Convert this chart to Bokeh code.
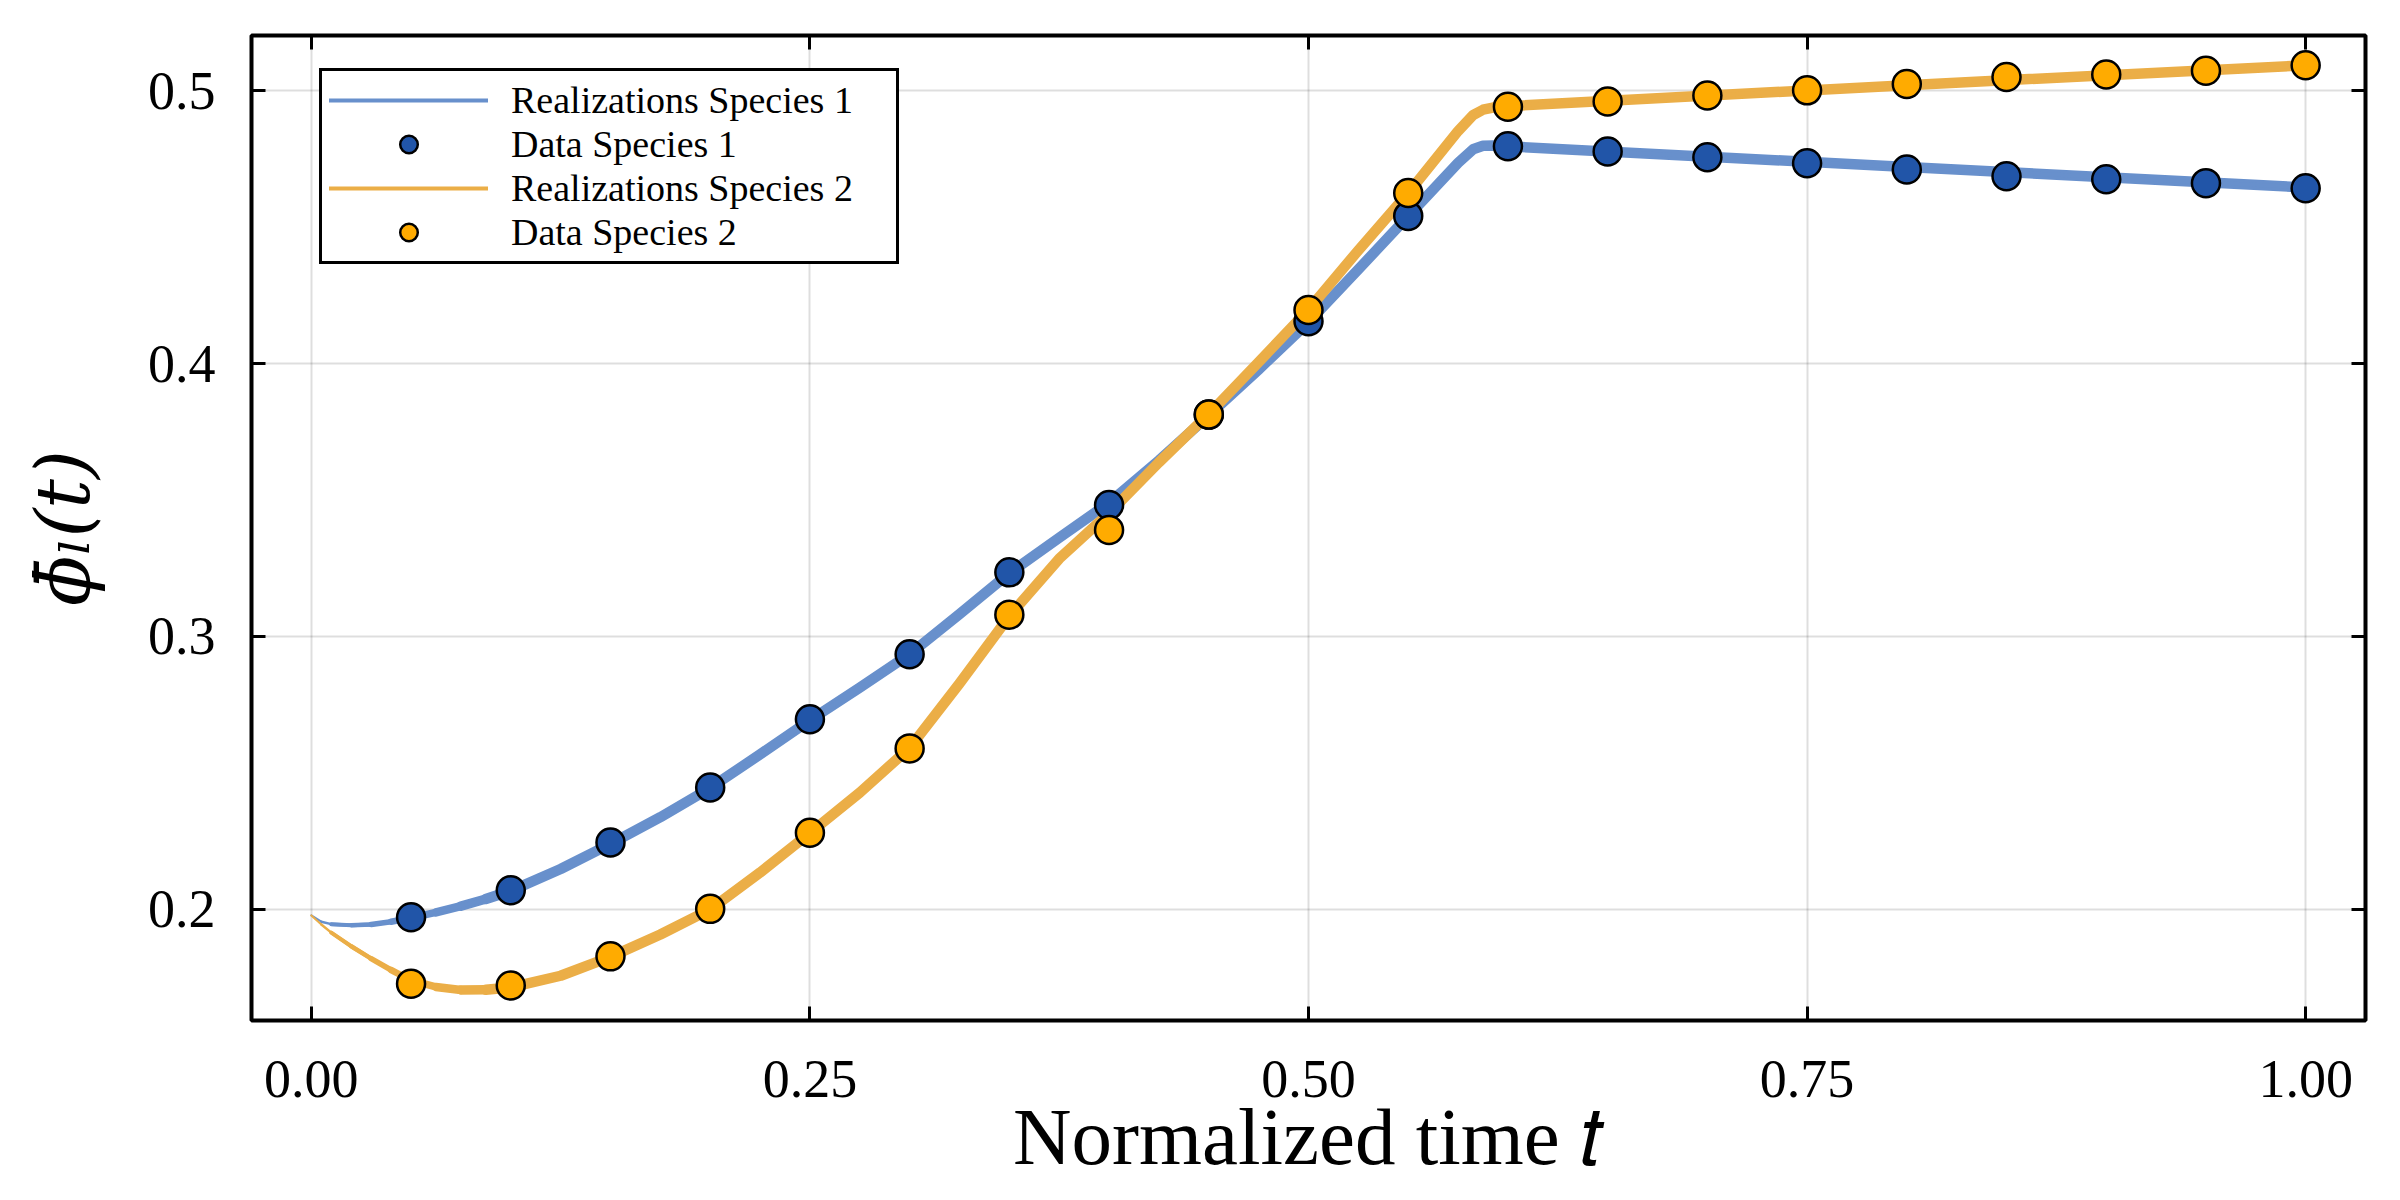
from bokeh.plotting import figure
from bokeh.models import (Range1d, FixedTicker, LinearAxis, Legend, LegendItem,
                          CustomJSTickFormatter)
from bokeh.embed import file_html
from bokeh.resources import INLINE

# ---------------- data ----------------
t_data = [0.05, 0.10, 0.15, 0.20, 0.25, 0.30, 0.35, 0.40, 0.45, 0.50,
          0.55, 0.60, 0.65, 0.70, 0.75, 0.80, 0.85, 0.90, 0.95, 1.00]
data_species1 = [0.1971, 0.2070, 0.2245, 0.2447, 0.2697, 0.2935, 0.3235, 0.3482,
                 0.3813, 0.4155, 0.4541, 0.4796, 0.4777, 0.4756, 0.4734, 0.4711,
                 0.4686, 0.4675, 0.4661, 0.4642]
data_species2 = [0.1728, 0.1721, 0.1828, 0.2002, 0.2281, 0.2590, 0.3080, 0.3390,
                 0.3813, 0.4196, 0.4625, 0.4941, 0.4960, 0.4982, 0.5001, 0.5024,
                 0.5050, 0.5059, 0.5073, 0.5093]

t_real = [0.0, 0.005, 0.01, 0.02, 0.03, 0.04, 0.05, 0.0625, 0.075, 0.0875,
          0.10, 0.125, 0.15, 0.175, 0.20, 0.225, 0.25, 0.275, 0.30, 0.325,
          0.35, 0.375, 0.40, 0.425, 0.45, 0.475, 0.50, 0.525, 0.55, 0.575,
          0.5825, 0.5875, 0.5925, 0.60, 0.80, 1.00]
real_species1 = [0.1978, 0.1955, 0.1946, 0.1942, 0.1945, 0.1955, 0.1969, 0.1989,
                 0.2012, 0.2038, 0.2068, 0.2148, 0.2240, 0.2338, 0.2445, 0.2568,
                 0.2693, 0.2813, 0.2935, 0.3082, 0.3232, 0.3362, 0.3490, 0.3645,
                 0.3810, 0.3978, 0.4152, 0.4345, 0.4540, 0.4735, 0.4785, 0.4798,
                 0.4799, 0.4796, 0.4720, 0.4645]
real_species2 = [0.1978, 0.1945, 0.1915, 0.1865, 0.1820, 0.1778, 0.1740, 0.1716,
                 0.1705, 0.1706, 0.1714, 0.1757, 0.1826, 0.1908, 0.2000, 0.2135,
                 0.2280, 0.2428, 0.2592, 0.2828, 0.3075, 0.3285, 0.3452, 0.3638,
                 0.3815, 0.4005, 0.4198, 0.4415, 0.4625, 0.4852, 0.4910, 0.4930,
                 0.4938, 0.4943, 0.5020, 0.5093]

x_ticks = [0.0, 0.25, 0.50, 0.75, 1.00]
x_tick_labels = ["0.00", "0.25", "0.50", "0.75", "1.00"]
y_ticks = [0.2, 0.3, 0.4, 0.5]
y_tick_labels = ["0.2", "0.3", "0.4", "0.5"]

# ---------------- styling ----------------
FONT = "Liberation Serif"
BLUE_REAL = "#6890cc"
ORANGE_REAL = "#ebae47"
BLUE_DATA = "#2155a8"
ORANGE_DATA = "#ffab00"

p = figure(width=2384, height=1184, output_backend="svg", toolbar_location=None,
           x_range=Range1d(-0.03, 1.03), y_range=Range1d(0.1593, 0.5202),
           min_border_left=251, min_border_right=19, min_border_top=35,
           min_border_bottom=159)

p.outline_line_color = "black"
p.outline_line_width = 4
p.outline_line_alpha = 1.0
p.background_fill_color = "white"
p.border_fill_color = "white"

# main axes
for ax in (p.xaxis[0], p.yaxis[0]):
    ax.axis_line_color = None
    ax.major_tick_in = 14
    ax.major_tick_out = 0
    ax.major_tick_line_width = 3
    ax.major_tick_line_color = "black"
    ax.minor_tick_line_color = None
    ax.major_label_text_font = FONT
    ax.major_label_text_font_size = "54px"
    ax.major_label_text_color = "black"
    ax.axis_label_text_font = FONT
    ax.axis_label_text_font_style = "normal"
    ax.axis_label_text_color = "black"

p.xaxis[0].ticker = FixedTicker(ticks=x_ticks)
p.xaxis[0].major_label_overrides = dict(zip(x_ticks, x_tick_labels))
p.yaxis[0].ticker = FixedTicker(ticks=y_ticks)
p.yaxis[0].major_label_overrides = dict(zip(y_ticks, y_tick_labels))
p.xaxis[0].major_label_standoff = 40
p.yaxis[0].major_label_standoff = 36

p.xaxis[0].axis_label = "Normalized time 𝑡"
p.xaxis[0].axis_label_text_font_size = "81px"
p.xaxis[0].axis_label_standoff = -8
p.yaxis[0].axis_label = "ϕ̄ₗ(t)"
p.yaxis[0].axis_label_text_font = "DejaVu Serif"
p.yaxis[0].axis_label_text_font_style = "italic"
p.yaxis[0].axis_label_text_font_size = "74px"
p.yaxis[0].axis_label_standoff = 39

# mirrored tick marks on top / right
empty = CustomJSTickFormatter(code="return ''")
top_ax = LinearAxis(ticker=FixedTicker(ticks=x_ticks), formatter=empty)
right_ax = LinearAxis(ticker=FixedTicker(ticks=y_ticks), formatter=empty)
for ax in (top_ax, right_ax):
    ax.axis_line_color = None
    ax.major_tick_in = 14
    ax.major_tick_out = 0
    ax.major_tick_line_width = 3
    ax.major_tick_line_color = "black"
    ax.minor_tick_line_color = None
    ax.major_label_standoff = 0
    ax.major_label_text_font_size = "1px"
p.add_layout(top_ax, "above")
p.add_layout(right_ax, "right")

p.grid.grid_line_color = "black"
p.grid.grid_line_alpha = 0.13
p.grid.grid_line_width = 2
p.xgrid.ticker = FixedTicker(ticks=x_ticks)
p.ygrid.ticker = FixedTicker(ticks=y_ticks)

# realization bundles: thin at t=0, widening as realizations spread
cuts = [(0, 1, 2.0), (1, 2, 2.5), (2, 3, 3.5), (3, 4, 4.5), (4, 5, 5.5),
        (5, 6, 6.5), (6, 7, 7.5), (7, 8, 8.5), (8, 9, 9.5),
        (9, len(t_real) - 1, 10.5)]


def bundle(values, color):
    xs = [t_real[a:b + 1] for a, b, _ in cuts]
    ys = [values[a:b + 1] for a, b, _ in cuts]
    ws = [w for _, _, w in cuts]
    p.multi_line(xs=xs, ys=ys, line_color=color, line_width=ws,
                 line_join="round", line_cap="round")
    return p.line(t_real[2:], values[2:], line_color=color, line_width=4,
                  line_join="round", line_cap="round")


r_real1 = bundle(real_species1, BLUE_REAL)
r_real2 = bundle(real_species2, ORANGE_REAL)

r_data1 = p.scatter(t_data, data_species1, size=28, fill_color=BLUE_DATA,
                    line_color="black", line_width=2.5)
r_data2 = p.scatter(t_data, data_species2, size=28, fill_color=ORANGE_DATA,
                    line_color="black", line_width=2.5)

legend = Legend(items=[
    LegendItem(label="Realizations Species 1", renderers=[r_real1]),
    LegendItem(label="Data Species 1", renderers=[r_data1]),
    LegendItem(label="Realizations Species 2", renderers=[r_real2]),
    LegendItem(label="Data Species 2", renderers=[r_data2]),
], location=(68, 756))
legend.label_text_font = FONT
legend.label_text_font_size = "38px"
legend.label_text_color = "black"
legend.label_height = 39
legend.label_width = 378
legend.glyph_height = 44
legend.glyph_width = 159
legend.label_standoff = 23
legend.spacing = 0
legend.padding = 7
legend.margin = 0
legend.border_line_color = "black"
legend.border_line_width = 3
legend.border_line_alpha = 1.0
legend.background_fill_color = "white"
legend.background_fill_alpha = 1.0
p.add_layout(legend, "center")

open("out.html", "w").write(file_html(p, INLINE))
